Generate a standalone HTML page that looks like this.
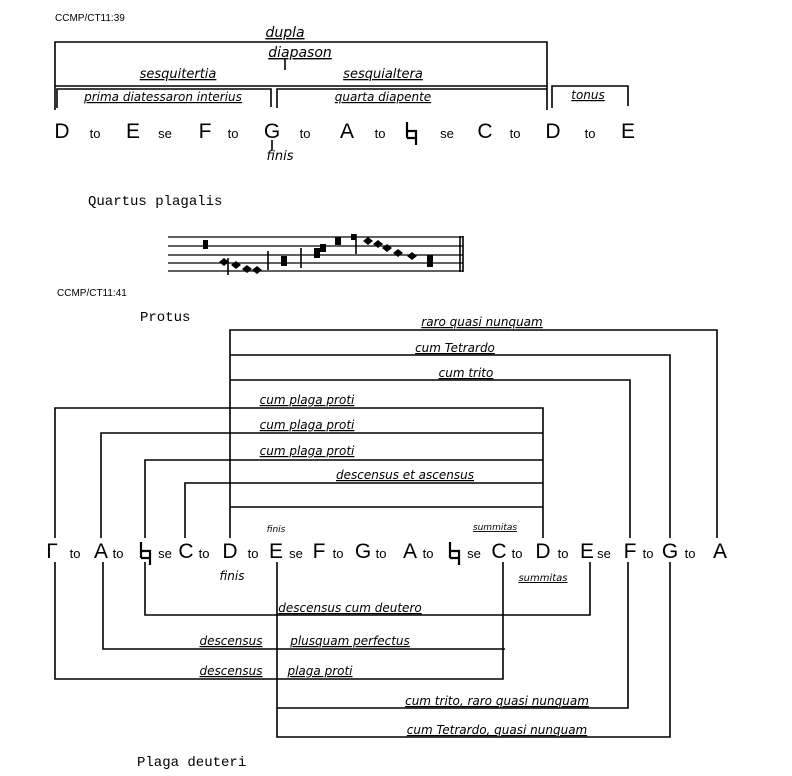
<!DOCTYPE html>
<html><head><meta charset="utf-8"><style>
html,body{margin:0;padding:0;background:#fff;}
svg{display:block}
.t{font-family:"Liberation Sans",sans-serif;fill:#000}
.L{font-size:21px}
.s{font-size:13px}
.h{font-family:"DejaVu Sans",sans-serif;font-style:italic;font-size:12px;fill:#000;text-decoration:underline}
.m{font-family:"Liberation Mono",monospace;font-size:14px;fill:#000}
</style></head><body>
<svg width="792" height="776" viewBox="0 0 792 776" xmlns="http://www.w3.org/2000/svg">
<defs><path id="nat" d="M-5,-16 V0 M-5,-7 H4 V0 H-5 M4,-7 V7" stroke="#000" stroke-width="2.2" fill="none"/></defs>
<g stroke="#000" stroke-width="1.6" fill="none">
<polyline points="55,110 55,42 547,42 547,110"/>
<line x1="285" y1="59" x2="285" y2="70"/>
<line x1="55" y1="86" x2="547" y2="86"/>
<polyline points="57,108 57,89 271,89 271,107"/>
<polyline points="277,108 277,89 547,89"/>
<polyline points="552,108 552,86 628,86 628,106"/>
<line x1="272" y1="140" x2="272" y2="150"/>
<line x1="168" y1="237" x2="463" y2="237" stroke-width="1.2"/>
<line x1="168" y1="246" x2="463" y2="246" stroke-width="1.2"/>
<line x1="168" y1="255" x2="463" y2="255" stroke-width="1.2"/>
<line x1="168" y1="263" x2="463" y2="263" stroke-width="1.2"/>
<line x1="168" y1="271" x2="463" y2="271" stroke-width="1.2"/>
<line x1="460" y1="236" x2="460" y2="272"/>
<line x1="463" y1="236" x2="463" y2="272"/>
<line x1="228" y1="258" x2="228" y2="275"/>
<line x1="268" y1="251" x2="268" y2="270"/>
<line x1="301" y1="248" x2="301" y2="268"/>
<line x1="356" y1="234" x2="356" y2="254"/>
<polyline points="230,538 230,330 717,330 717,538"/>
<polyline points="230,355 670,355 670,538"/>
<polyline points="230,380 630,380 630,538"/>
<polyline points="55,538 55,408 543,408 543,538"/>
<polyline points="101,538 101,433 543,433"/>
<polyline points="145,538 145,460 543,460"/>
<polyline points="185,538 185,483 543,483"/>
<line x1="230" y1="507" x2="543" y2="507"/>
<polyline points="55,562 55,679 503,679 503,562"/>
<polyline points="103,562 103,649 505,649"/>
<polyline points="145,562 145,615 590,615 590,562"/>
<polyline points="277,562 277,737 670,737 670,562"/>
<polyline points="277,708 628,708 628,562"/>
</g>
<use href="#nat" x="412" y="138"/>
<use href="#nat" x="146" y="558"/>
<use href="#nat" x="455" y="558"/>
<g fill="#000">
<rect x="203" y="240" width="5" height="9"/>
<polygon points="224,258 229,262 224,266 219,262"/>
<polygon points="236,261 241,265 236,269 231,265"/>
<polygon points="247,265 252,269 247,273 242,269"/>
<polygon points="257,266 262,270 257,274 252,270"/>
<rect x="281" y="256" width="6" height="10"/>
<rect x="314" y="248" width="6" height="10"/>
<rect x="320" y="244" width="6" height="8"/>
<rect x="335" y="237" width="6" height="8"/>
<rect x="351" y="234" width="5" height="6"/>
<polygon points="368,237 373,241 368,245 363,241"/>
<polygon points="378,240 383,244 378,248 373,244"/>
<polygon points="387,244 392,248 387,252 382,248"/>
<polygon points="398,249 403,253 398,257 393,253"/>
<polygon points="412,252 417,256 412,260 407,256"/>
<rect x="427" y="255" width="6" height="12"/>
</g>
<text x="55" y="21" class="t" style="font-size:10px">CCMP/CT11:39</text>
<text x="285" y="37" class="h" text-anchor="middle" style="font-size:14px">dupla</text>
<text x="300" y="57" class="h" text-anchor="middle" style="font-size:14px">diapason</text>
<text x="178" y="78" class="h" text-anchor="middle" style="font-size:13px">sesquitertia</text>
<text x="383" y="78" class="h" text-anchor="middle" style="font-size:13px">sesquialtera</text>
<text x="163" y="101" class="h" text-anchor="middle">prima diatessaron interius</text>
<text x="383" y="101" class="h" text-anchor="middle">quarta diapente</text>
<text x="588" y="99" class="h" text-anchor="middle">tonus</text>
<g class="t">
<text x="62" y="138" class="L" text-anchor="middle">D</text>
<text x="95" y="138" class="s" text-anchor="middle">to</text>
<text x="133" y="138" class="L" text-anchor="middle">E</text>
<text x="165" y="138" class="s" text-anchor="middle">se</text>
<text x="205" y="138" class="L" text-anchor="middle">F</text>
<text x="233" y="138" class="s" text-anchor="middle">to</text>
<text x="272" y="138" class="L" text-anchor="middle">G</text>
<text x="305" y="138" class="s" text-anchor="middle">to</text>
<text x="347" y="138" class="L" text-anchor="middle">A</text>
<text x="380" y="138" class="s" text-anchor="middle">to</text>
<text x="447" y="138" class="s" text-anchor="middle">se</text>
<text x="485" y="138" class="L" text-anchor="middle">C</text>
<text x="515" y="138" class="s" text-anchor="middle">to</text>
<text x="553" y="138" class="L" text-anchor="middle">D</text>
<text x="590" y="138" class="s" text-anchor="middle">to</text>
<text x="628" y="138" class="L" text-anchor="middle">E</text>
</g>
<text x="280" y="160" class="h" text-anchor="middle" style="text-decoration:none;font-size:13px">finis</text>
<text x="88" y="205" class="m">Quartus plagalis</text>
<text x="57" y="296" class="t" style="font-size:10px">CCMP/CT11:41</text>
<text x="140" y="321" class="m">Protus</text>
<text x="482" y="326" class="h" text-anchor="middle">raro quasi nunquam</text>
<text x="455" y="352" class="h" text-anchor="middle">cum Tetrardo</text>
<text x="466" y="377" class="h" text-anchor="middle">cum trito</text>
<text x="307" y="404" class="h" text-anchor="middle">cum plaga proti</text>
<text x="307" y="429" class="h" text-anchor="middle">cum plaga proti</text>
<text x="307" y="455" class="h" text-anchor="middle">cum plaga proti</text>
<text x="405" y="479" class="h" text-anchor="middle">descensus et ascensus</text>
<g class="t">
<text x="52" y="558" class="L" text-anchor="middle">Γ</text>
<text x="75" y="558" class="s" text-anchor="middle">to</text>
<text x="101" y="558" class="L" text-anchor="middle">A</text>
<text x="118" y="558" class="s" text-anchor="middle">to</text>
<text x="165" y="558" class="s" text-anchor="middle">se</text>
<text x="186" y="558" class="L" text-anchor="middle">C</text>
<text x="204" y="558" class="s" text-anchor="middle">to</text>
<text x="230" y="558" class="L" text-anchor="middle">D</text>
<text x="253" y="558" class="s" text-anchor="middle">to</text>
<text x="276" y="558" class="L" text-anchor="middle">E</text>
<text x="296" y="558" class="s" text-anchor="middle">se</text>
<text x="319" y="558" class="L" text-anchor="middle">F</text>
<text x="338" y="558" class="s" text-anchor="middle">to</text>
<text x="363" y="558" class="L" text-anchor="middle">G</text>
<text x="381" y="558" class="s" text-anchor="middle">to</text>
<text x="410" y="558" class="L" text-anchor="middle">A</text>
<text x="428" y="558" class="s" text-anchor="middle">to</text>
<text x="474" y="558" class="s" text-anchor="middle">se</text>
<text x="499" y="558" class="L" text-anchor="middle">C</text>
<text x="517" y="558" class="s" text-anchor="middle">to</text>
<text x="543" y="558" class="L" text-anchor="middle">D</text>
<text x="563" y="558" class="s" text-anchor="middle">to</text>
<text x="587" y="558" class="L" text-anchor="middle">E</text>
<text x="604" y="558" class="s" text-anchor="middle">se</text>
<text x="630" y="558" class="L" text-anchor="middle">F</text>
<text x="648" y="558" class="s" text-anchor="middle">to</text>
<text x="670" y="558" class="L" text-anchor="middle">G</text>
<text x="690" y="558" class="s" text-anchor="middle">to</text>
<text x="720" y="558" class="L" text-anchor="middle">A</text>
</g>
<text x="276" y="532" class="h" text-anchor="middle" style="text-decoration:none;font-size:9px">finis</text>
<text x="495" y="530" class="h" text-anchor="middle" style="font-size:9px">summitas</text>
<text x="232" y="580" class="h" text-anchor="middle" style="text-decoration:none">finis</text>
<text x="543" y="581" class="h" text-anchor="middle" style="font-size:10px">summitas</text>
<text x="350" y="612" class="h" text-anchor="middle">descensus cum deutero</text>
<text x="231" y="645" class="h" text-anchor="middle">descensus</text>
<text x="350" y="645" class="h" text-anchor="middle">plusquam perfectus</text>
<text x="231" y="675" class="h" text-anchor="middle">descensus</text>
<text x="320" y="675" class="h" text-anchor="middle">plaga proti</text>
<text x="497" y="705" class="h" text-anchor="middle">cum trito, raro quasi nunquam</text>
<text x="497" y="734" class="h" text-anchor="middle">cum Tetrardo, quasi nunquam</text>
<text x="137" y="766" class="m">Plaga deuteri</text>
</svg>
</body></html>
